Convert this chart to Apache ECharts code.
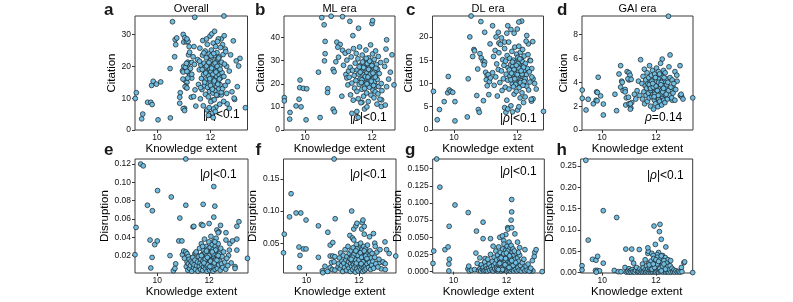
<!DOCTYPE html>
<html>
<head>
<meta charset="utf-8">
<script src="https://cdn.jsdelivr.net/npm/echarts@6/dist/echarts.min.js"></script>
<style>html,body{margin:0;padding:0;background:#fff}#c{width:793px;height:302px}</style>
</head>
<body>
<div id="c"></div>
<script>
// ---------------- DATA ----------------
const eraTitles = ['Overall', 'ML era', 'DL era', 'GAI era'];
const panelLetters = ['a', 'b', 'c', 'd', 'e', 'f', 'g', 'h'];
const xTicks = [10, 12];
const citationTicksOverall = [0, 10, 20, 30];
const citationTicksML = [0, 10, 20, 30, 40];
const citationTicksDL = [0, 5, 10, 15, 20];
const citationTicksGAI = [0, 2, 4, 6, 8];
const disruptionTicksOverall = [0.02, 0.04, 0.06, 0.08, 0.10, 0.12];
const disruptionTicksML = [0.05, 0.10, 0.15];
const disruptionTicksDL = [0, 0.025, 0.05, 0.075, 0.1, 0.125, 0.15];
const disruptionTicksGAI = [0, 0.05, 0.10, 0.15, 0.20, 0.25];
const notes = ['|ρ|<0.1', '|ρ|<0.1', '|ρ|<0.1', 'ρ=0.14', '|ρ|<0.1', '|ρ|<0.1', '|ρ|<0.1', '|ρ|<0.1'];

const overallCitation = [
[9.23,11.7],[9.19,9.9],[9.47,5.0],[9.43,3.5],[9.65,8.7],[9.77,8.7],[9.82,8.0],[9.8,14.0],[9.86,15.3],[9.98,14.4],[10.14,15.1],[10.04,3.2],[10.49,19.3],[10.58,34.0],[10.5,3.8],[10.68,28.4],[10.74,28.9],[10.7,26.8],[10.66,23.0],[10.87,11.7],[10.85,8.4],[10.98,30.0],[11.04,29.0],[11.0,27.6],[11.1,27.7],[11.16,27.8],[11.2,26.2],[10.95,18.6],[10.98,18.2],[11.0,20.0],[11.06,19.7],[11.05,15.5],[11.12,15.0],[11.1,13.3],[11.08,13.8],[11.03,6.8],[10.98,6.7],[11.03,6.1],[11.28,10.3],[11.15,21.3],[11.17,20.8],[11.2,17.8],[11.23,17.1],[11.18,23.6],[11.3,21.2],[11.35,23.0],[11.38,26.2],[11.41,35.4],[11.25,19.3],[11.3,16.3],[11.37,10.5],[11.42,12.6],[11.45,7.5],[11.12,28.6],[11.22,24.4],[11.4,20.6],[11.1,20.9],[11.12,18.4],[11.3,17.5],[11.15,16.3],[10.97,16.0],[11.05,13.6],[11.12,13.2],[10.85,10.3],
[12.4,28.6],[12.51,29.6],[12.45,26.8],[12.55,25.4],[12.96,21.7],[13.05,20.1],[13.0,13.6],[12.9,9.6],[12.88,10.0],[13.3,7.0],[12.4,11.0],[12.08,9.4],[12.6,20.0],[12.7,18.5],[12.65,15.2],[12.75,23.6],[12.8,12.0],[12.5,35.8],[12.7,6.8],[12.62,8.2],[13.1,22.5],[12.85,28.0],
[11.52,22.1],[11.55,14.3],[11.58,18.9],[11.6,25.7],[11.62,9.8],[11.64,20.4],[11.66,16.2],[11.68,12.7],[11.7,23.5],[11.71,28.1],[11.73,7.6],[11.74,17.4],[11.76,21.0],[11.77,13.9],[11.79,19.6],[11.8,24.8],[11.81,11.2],[11.83,15.7],[11.84,22.7],[11.86,18.1],[11.87,6.3],[11.88,26.9],[11.9,14.6],[11.91,20.9],[11.92,10.4],[11.93,17.0],[11.95,23.9],[11.96,12.1],[11.97,19.2],[11.98,29.5],[11.99,15.3],[12.0,21.8],[12.01,8.9],[12.02,18.4],[12.03,25.1],[12.04,13.2],[12.05,16.6],[12.06,22.9],[12.07,5.4],[12.08,19.9],[12.09,11.6],[12.1,27.3],[12.11,14.8],[12.12,20.6],[12.13,17.7],[12.14,9.5],[12.15,23.4],[12.16,15.9],[12.17,12.4],[12.18,19.0],[12.19,26.2],[12.2,7.2],[12.21,21.5],[12.22,16.9],[12.23,13.6],[12.24,24.3],[12.25,18.7],[12.26,10.9],[12.27,22.2],[12.28,15.0],[12.29,28.6],[12.3,19.8],[12.31,12.9],[12.32,17.3],[12.33,23.0],[12.34,8.1],[12.35,20.2],[12.36,14.2],[12.37,25.9],[12.38,16.4],[12.4,11.9],[12.41,21.3],[12.43,18.0],[12.45,13.0],[12.47,23.7],[12.49,9.0],[12.5,16.8],[12.52,20.7],[12.55,14.0],[12.57,24.6],[12.6,11.5],
[11.82,17.9],[11.85,20.1],[11.89,13.4],[11.94,21.2],[11.97,16.1],[12.0,14.0],[12.02,23.3],[12.04,19.4],[12.07,12.8],[12.09,17.5],[12.12,24.0],[12.14,15.4],[12.17,21.0],[12.2,18.2],[12.22,11.0],[12.25,20.0],[12.27,14.4],[12.3,22.6],[12.33,16.0],[12.36,19.1],[11.78,15.0],[11.75,24.2],[11.69,19.0],[11.63,13.3],[11.59,21.6],[12.11,6.6],[12.18,5.8],[11.95,7.0],[12.26,27.8],[11.85,28.6],[12.05,30.2],[12.15,31.0],[11.92,4.6],[12.1,3.9]
];

const mlCitation = [
[9.38,14.0],[9.38,12.6],[9.55,7.6],[9.54,4.7],[9.73,10.4],[9.88,10.0],[9.82,13.3],[9.85,21.6],[9.84,18.3],[9.95,18.0],[10.05,17.8],[10.03,4.4],[10.45,5.4],[10.4,25.0],[10.57,45.5],[10.78,49.2],[10.5,48.6],[10.6,38.3],[10.6,33.0],[10.58,29.9],[10.68,17.9],[10.67,16.2],[10.84,26.2],[10.87,25.2],[10.84,9.0],[10.88,7.9],[11.1,14.6],[10.95,38.0],[11.05,37.0],[10.98,35.8],[11.12,34.5],[11.2,33.2],[11.12,49.0],[11.34,47.0],[11.6,44.0],[12.0,46.0],[12.02,47.3],[11.43,40.8],[11.22,24.0],[11.25,22.5],[11.3,25.5],[10.92,29.5],[11.0,31.5],[11.15,28.0],
[12.44,39.0],[12.42,35.0],[12.43,30.0],[12.38,27.5],[12.44,18.7],[12.29,13.0],[12.28,10.2],[12.4,10.8],[12.66,19.5],[12.55,25.0],[12.6,32.5],[12.5,22.0],[11.78,9.1],[11.85,10.0],[11.59,5.4],[11.55,8.0],[11.7,12.0],[11.4,7.2],
[11.25,30.2],[11.28,19.5],[11.3,34.0],[11.32,22.8],[11.35,27.1],[11.36,15.2],[11.38,31.6],[11.4,20.3],[11.42,25.8],[11.44,12.9],[11.45,35.2],[11.47,23.6],[11.48,18.1],[11.5,28.9],[11.52,21.4],[11.53,33.1],[11.55,16.7],[11.56,26.0],[11.58,30.8],[11.59,13.5],[11.6,24.2],[11.62,19.7],[11.63,35.9],[11.65,22.1],[11.66,28.0],[11.67,11.8],[11.69,25.3],[11.7,17.6],[11.71,32.4],[11.72,21.0],[11.74,27.7],[11.75,14.6],[11.76,23.9],[11.78,30.1],[11.79,19.2],[11.8,26.6],[11.81,22.5],[11.82,34.6],[11.84,16.0],[11.85,24.7],[11.86,28.8],[11.87,20.6],[11.89,12.3],[11.9,31.2],[11.91,23.3],[11.92,18.5],[11.93,26.9],[11.95,21.7],[11.96,36.8],[11.97,15.1],[11.98,25.0],[11.99,29.6],[12.0,19.9],[12.01,23.0],[12.02,32.9],[12.03,17.2],[12.04,27.4],[12.05,22.2],[12.06,13.9],[12.07,30.5],[12.08,20.9],[12.09,25.6],[12.1,16.5],[12.11,34.2],[12.12,23.7],[12.13,19.0],[12.14,28.3],[12.15,11.2],[12.16,21.9],[12.17,26.3],[12.18,15.6],[12.19,31.8],[12.2,18.8],[12.22,24.4],[12.24,13.3],[12.26,29.2],[12.28,20.1],[12.3,17.0],
[11.65,25.0],[11.7,21.7],[11.75,27.0],[11.8,23.1],[11.85,20.0],[11.9,26.2],[11.95,24.1],[12.0,27.9],[12.05,19.3],[12.1,22.9],[11.72,29.4],[11.88,22.9],[11.98,21.1],[12.03,24.6],[11.62,27.3],[11.78,18.0],[11.93,29.8],[12.12,26.7],[11.83,31.0],[11.68,20.5]
];

const dlCitation = [
[9.35,8.3],[9.54,4.4],[9.47,2.2],[9.69,6.1],[9.82,11.5],[9.8,8.0],[9.85,8.6],[9.9,8.3],[9.96,8.1],[10.03,6.1],[10.03,1.95],[10.42,2.8],[10.45,11.0],[10.5,20.0],[10.59,15.8],[10.63,17.3],[10.65,17.0],[10.54,24.5],[10.85,23.3],[10.97,21.0],[11.22,22.4],[11.7,22.4],[12.14,23.4],[12.0,21.7],[10.72,7.4],[10.77,4.4],[10.8,3.8],[10.93,6.3],[10.75,13.1],[10.82,16.4],[10.86,15.5],[10.92,14.8],[10.97,14.6],[10.95,14.0],[11.0,12.4],[11.05,11.7],[11.08,11.9],[11.02,10.8],[11.12,10.4],[11.15,11.2],[11.1,7.6],[11.33,20.0],[11.4,21.0],[11.42,18.7],[11.14,18.5],[11.67,20.8],[11.8,21.6],[11.9,20.8],[12.05,23.2],[12.49,19.0],[12.46,13.2],[12.5,11.0],[12.55,10.0],[12.6,8.8],[12.5,6.7],[12.45,6.2],[12.83,4.0],[12.4,15.0],[12.35,18.5],[12.3,20.3],[11.5,19.8],[11.6,18.9],[11.05,9.5],
[11.22,12.3],[11.25,15.8],[11.27,9.6],[11.3,17.1],[11.32,11.4],[11.35,14.2],[11.37,7.3],[11.4,13.0],[11.42,16.6],[11.45,10.2],[11.47,18.4],[11.5,12.7],[11.52,8.5],[11.54,15.1],[11.56,11.0],[11.58,13.9],[11.6,17.5],[11.62,9.2],[11.63,14.8],[11.65,12.0],[11.67,6.4],[11.68,16.0],[11.7,10.7],[11.71,13.4],[11.73,18.9],[11.74,8.8],[11.76,15.4],[11.77,11.6],[11.79,14.0],[11.8,5.2],[11.81,12.8],[11.83,16.9],[11.84,9.9],[11.86,13.7],[11.87,11.1],[11.88,15.0],[11.9,7.7],[11.91,12.4],[11.92,17.8],[11.94,10.4],[11.95,14.5],[11.96,12.1],[11.97,8.3],[11.98,16.3],[11.99,11.3],[12.0,13.6],[12.01,4.3],[12.02,15.6],[12.03,10.0],[12.04,12.6],[12.05,18.0],[12.06,9.1],[12.07,14.1],[12.08,11.8],[12.09,6.9],[12.1,16.7],[12.11,13.1],[12.12,10.6],[12.13,15.2],[12.14,12.2],[12.15,8.0],[12.16,14.7],[12.17,17.3],[12.18,11.5],[12.19,13.8],[12.2,5.9],[12.21,9.7],[12.22,15.9],[12.23,12.9],[12.24,10.9],[12.25,7.1],[12.26,14.3],[12.28,19.1],[12.29,11.9],[12.3,9.4],[12.32,13.2],[12.34,16.2],[12.36,8.6],[12.38,12.5],[12.4,10.3],[12.42,14.9],[12.44,6.6],[12.46,11.4],
[11.75,12.9],[11.8,10.8],[11.85,14.6],[11.9,13.0],[11.95,9.8],[12.0,11.9],[12.05,13.3],[12.1,10.2],[12.15,12.0],[12.2,13.5],[12.25,11.0],[11.82,12.2],[11.92,11.0],[12.02,14.3],[12.12,12.7],[12.22,10.4],[11.88,9.3],[12.08,15.3],[11.97,13.9],[12.18,9.6],[11.64,3.8],[11.6,4.8],[11.7,4.5],[11.85,3.9],[12.05,5.0]
];

const gaiCitation = [
[9.27,3.35],[9.27,2.66],[9.41,1.68],[9.49,2.58],[9.68,2.2],[9.8,3.2],[9.83,3.15],[9.78,2.5],[9.82,2.45],[9.86,4.43],[9.95,2.86],[10.05,2.18],[10.05,1.26],[10.48,3.0],[10.54,1.62],[10.63,4.7],[10.69,5.4],[10.73,4.1],[10.75,4.0],[10.69,3.6],[10.78,3.3],[10.86,3.4],[10.86,3.2],[10.9,2.7],[10.98,2.75],[10.88,2.1],[11.0,2.2],[11.07,1.85],[11.05,1.75],[10.93,4.9],[11.0,4.8],[11.04,4.6],[11.0,4.2],[10.96,4.3],[11.08,4.25],[11.1,2.3],[11.05,2.2],[11.43,5.9],[11.35,4.1],[11.3,3.3],[11.2,3.0],[11.25,2.6],[11.4,2.9],
[12.52,6.3],[12.23,5.95],[12.46,9.55],[12.89,5.4],[12.78,4.1],[12.9,2.9],[12.95,2.8],[12.93,3.0],[13.0,2.6],[13.36,2.7],[12.7,4.9],[12.65,3.5],[12.6,2.5],
[11.48,3.9],[11.5,2.6],[11.52,4.5],[11.55,3.2],[11.57,5.1],[11.58,2.2],[11.6,3.7],[11.62,4.2],[11.63,2.9],[11.65,3.5],[11.67,4.8],[11.68,2.4],[11.7,3.9],[11.72,3.1],[11.73,4.4],[11.75,2.7],[11.76,5.4],[11.78,3.6],[11.79,4.0],[11.8,2.0],[11.82,3.3],[11.83,4.6],[11.85,2.8],[11.86,3.8],[11.87,5.0],[11.89,3.0],[11.9,4.2],[11.91,1.75],[11.92,3.5],[11.94,2.5],[11.95,4.7],[11.96,3.2],[11.97,3.9],[11.98,2.2],[12.0,4.1],[12.01,3.4],[12.02,5.2],[12.03,2.7],[12.04,3.7],[12.05,4.4],[12.06,3.0],[12.07,1.95],[12.08,3.6],[12.09,4.9],[12.1,2.6],[12.11,3.8],[12.12,4.3],[12.13,3.1],[12.14,2.4],[12.15,4.0],[12.16,3.5],[12.17,5.6],[12.18,2.9],[12.19,4.6],[12.2,3.3],[12.21,2.1],[12.22,3.9],[12.23,4.5],[12.24,2.8],[12.25,3.6],[12.26,4.2],[12.27,3.0],[12.28,5.0],[12.29,2.5],[12.3,3.7],[12.31,4.1],[12.32,3.2],[12.33,2.3],[12.34,4.8],[12.35,3.5],[12.36,2.9],[12.38,4.3],[12.4,3.8],[12.42,2.6],[12.44,4.0],[12.46,3.3],[12.48,5.3],[12.5,2.9],[12.52,4.4],[12.55,3.6],[12.58,2.7],[12.6,4.2],[12.63,3.1],[12.66,3.9],[12.7,2.5],[12.73,3.4],[12.77,4.6],
[11.75,3.8],[11.8,3.5],[11.85,4.1],[11.9,3.6],[11.95,3.0],[12.0,3.7],[12.05,3.3],[12.1,4.0],[12.15,3.0],[12.2,4.0],[12.25,3.2],[12.3,4.4],[11.88,3.9],[11.98,4.4],[12.08,2.9],[12.18,3.8],[12.28,3.5],[12.38,3.0],[11.93,2.8],[12.13,4.7]
];

const overallDisruption = [
[9.18,0.0508],[9.14,0.021],[9.36,0.120],[9.46,0.118],[9.62,0.075],[9.81,0.069],[9.72,0.037],[9.9,0.032],[10.0,0.036],[9.8,0.018],[9.75,0.0065],[10.01,0.091],[10.54,0.084],[10.49,0.020],[10.71,0.011],[10.62,0.0035],[10.68,0.006],[10.87,0.061],[10.83,0.036],[10.95,0.036],[11.1,0.075],[11.1,0.1255],[10.97,0.021],[11.02,0.025],[11.1,0.024],[11.05,0.017],[11.15,0.022],[11.2,0.019],[11.38,0.0514],[12.18,0.0954],[11.77,0.076],[12.22,0.074],[12.18,0.062],[11.7,0.054],[11.76,0.053],[12.0,0.055],[11.41,0.052],[12.44,0.053],[12.3,0.048],[12.38,0.046],[12.35,0.045],[13.07,0.052],[13.15,0.057],[13.07,0.038],[13.07,0.026],[13.48,0.017],[13.0,0.008],[13.0,0.006],[12.8,0.033],[12.9,0.036],[12.65,0.045],[12.65,0.037],[11.45,0.022],[11.5,0.022],[12.75,0.02],[12.85,0.012],
[11.12,0.008],[11.15,0.013],[11.18,0.004],[11.2,0.011],[11.23,0.016],[11.25,0.006],[11.28,0.009],[11.3,0.014],[11.33,0.003],[11.35,0.012],[11.37,0.018],[11.4,0.007],[11.42,0.010],[11.45,0.015],[11.47,0.005],[11.5,0.024],[11.52,0.009],[11.55,0.013],[11.57,0.003],[11.6,0.019],[11.62,0.008],[11.63,0.028],[11.65,0.012],[11.67,0.005],[11.68,0.016],[11.7,0.033],[11.72,0.010],[11.73,0.021],[11.75,0.004],[11.76,0.014],[11.78,0.026],[11.79,0.008],[11.8,0.018],[11.82,0.038],[11.83,0.011],[11.85,0.023],[11.86,0.006],[11.87,0.015],[11.89,0.030],[11.9,0.009],[11.91,0.020],[11.92,0.003],[11.94,0.013],[11.95,0.027],[11.96,0.017],[11.97,0.007],[11.99,0.035],[12.0,0.012],[12.01,0.022],[12.02,0.004],[12.03,0.016],[12.04,0.029],[12.05,0.009],[12.06,0.019],[12.07,0.041],[12.08,0.013],[12.09,0.006],[12.1,0.025],[12.11,0.015],[12.12,0.032],[12.13,0.010],[12.14,0.020],[12.15,0.003],[12.16,0.027],[12.17,0.014],[12.18,0.008],[12.19,0.036],[12.2,0.018],[12.21,0.011],[12.22,0.024],[12.23,0.005],[12.24,0.030],[12.25,0.016],[12.26,0.009],[12.27,0.039],[12.28,0.021],[12.29,0.012],[12.3,0.027],[12.32,0.006],[12.33,0.017],[12.35,0.033],[12.37,0.010],[12.39,0.022],[12.41,0.014],[12.43,0.004],[12.45,0.028],[12.48,0.011],[12.5,0.019],[12.53,0.007],[12.56,0.024],[12.6,0.013],[12.64,0.005],[12.68,0.017],[12.72,0.009],[12.78,0.026],
[11.85,0.016],[11.9,0.025],[11.95,0.010],[12.0,0.020],[12.05,0.014],[12.1,0.008],[12.15,0.022],[12.2,0.012],[12.25,0.026],[11.8,0.012],[11.7,0.020],[12.3,0.015],[12.35,0.020],[11.93,0.018],[12.12,0.024],[12.03,0.008],[11.75,0.030],[12.22,0.035]
];

const mlDisruption = [
[9.15,0.064],[9.12,0.035],[9.35,0.091],[9.41,0.127],[9.6,0.097],[9.78,0.097],[9.98,0.086],[9.71,0.044],[9.75,0.031],[9.88,0.041],[9.98,0.041],[9.73,0.012],[10.45,0.077],[10.45,0.028],[10.7,0.014],[10.6,0.007],[10.81,0.067],[10.9,0.047],[11.0,0.051],[11.05,0.181],[11.09,0.088],[10.9,0.030],[11.0,0.030],[11.08,0.029],[10.95,0.020],[11.05,0.021],[10.9,0.012],[10.98,0.009],[11.08,0.008],[11.2,0.013],[11.72,0.100],[11.8,0.072],[11.88,0.077],[11.92,0.081],[12.12,0.082],[12.15,0.086],[12.1,0.072],[12.2,0.076],[11.65,0.062],[11.75,0.058],[11.8,0.055],[12.2,0.064],[12.4,0.060],[12.55,0.065],[12.6,0.050],[12.62,0.045],[12.99,0.052],[13.15,0.034],[13.05,0.040],[12.78,0.020],[12.95,0.019],[12.85,0.010],[13.0,0.009],[13.4,0.030],[10.62,0.004],[10.8,0.006],[12.91,0.021],[13.0,0.018],
[11.22,0.018],[11.25,0.027],[11.28,0.010],[11.3,0.035],[11.33,0.015],[11.35,0.022],[11.38,0.006],[11.4,0.031],[11.42,0.019],[11.45,0.012],[11.47,0.040],[11.5,0.024],[11.52,0.008],[11.54,0.029],[11.56,0.016],[11.58,0.045],[11.6,0.021],[11.62,0.011],[11.63,0.034],[11.65,0.026],[11.67,0.006],[11.68,0.018],[11.7,0.038],[11.72,0.014],[11.73,0.030],[11.75,0.022],[11.76,0.009],[11.78,0.043],[11.79,0.017],[11.8,0.027],[11.82,0.012],[11.83,0.035],[11.85,0.020],[11.86,0.005],[11.87,0.031],[11.89,0.015],[11.9,0.048],[11.91,0.024],[11.92,0.010],[11.94,0.037],[11.95,0.019],[11.96,0.028],[11.97,0.007],[11.99,0.033],[12.0,0.016],[12.01,0.042],[12.02,0.023],[12.03,0.012],[12.04,0.030],[12.05,0.020],[12.06,0.050],[12.07,0.009],[12.08,0.026],[12.09,0.036],[12.1,0.014],[12.11,0.022],[12.12,0.040],[12.13,0.017],[12.14,0.006],[12.15,0.032],[12.16,0.025],[12.17,0.011],[12.18,0.045],[12.19,0.019],[12.2,0.029],[12.21,0.008],[12.22,0.036],[12.23,0.021],[12.24,0.014],[12.25,0.041],[12.26,0.026],[12.27,0.010],[12.28,0.033],[12.3,0.018],[12.32,0.047],[12.34,0.024],[12.36,0.012],[12.38,0.030],[12.4,0.020],[12.42,0.038],[12.44,0.009],[12.46,0.027],[12.48,0.016],[12.5,0.034],[12.53,0.022],[12.56,0.011],[12.6,0.028],[12.64,0.018],[12.68,0.036],[12.72,0.013],[12.76,0.025],[12.8,0.040],
[11.85,0.025],[11.9,0.019],[11.95,0.031],[12.0,0.024],[12.05,0.035],[12.1,0.028],[12.15,0.021],[12.2,0.038],[11.8,0.032],[11.75,0.028],[12.25,0.030],[11.7,0.025],[12.3,0.026],[11.93,0.041],[12.08,0.018],[11.88,0.038]
];

const dlDisruption = [
[9.37,0.164],[9.49,0.123],[9.26,0.030],[9.23,0.012],[9.68,0.032],[9.8,0.036],[9.84,0.066],[9.83,0.011],[9.85,0.018],[9.83,0.001],[10.06,0.097],[10.56,0.086],[10.55,0.004],[10.58,0.008],[10.6,0.001],[10.68,0.002],[10.8,0.003],[10.87,0.059],[10.85,0.027],[11.12,0.072],[11.12,0.048],[11.4,0.048],[11.0,0.020],[11.2,0.019],[11.98,0.054],[12.05,0.064],[12.06,0.062],[12.2,0.064],[12.2,0.105],[12.2,0.087],[12.18,0.075],[12.32,0.055],[12.7,0.032],[13.07,0.028],[13.12,0.032],[13.05,0.022],[13.35,0.0],[12.95,0.002],[13.0,0.001],[12.85,0.004],[12.9,0.0015],[11.75,0.050],[11.85,0.052],[11.9,0.045],[12.42,0.043],[12.5,0.035],[11.5,0.037],[10.9,0.012],[11.05,0.008],
[10.95,0.002],[11.0,0.004],[11.03,0.001],[11.06,0.010],[11.1,0.003],[11.13,0.006],[11.15,0.001],[11.18,0.014],[11.2,0.002],[11.23,0.008],[11.25,0.004],[11.28,0.001],[11.3,0.018],[11.33,0.005],[11.35,0.011],[11.37,0.002],[11.4,0.025],[11.42,0.007],[11.45,0.003],[11.47,0.015],[11.5,0.001],[11.52,0.009],[11.54,0.021],[11.56,0.004],[11.58,0.012],[11.6,0.030],[11.62,0.002],[11.63,0.017],[11.65,0.007],[11.67,0.024],[11.68,0.001],[11.7,0.011],[11.71,0.036],[11.73,0.005],[11.74,0.019],[11.76,0.003],[11.77,0.028],[11.79,0.009],[11.8,0.014],[11.81,0.001],[11.83,0.022],[11.84,0.006],[11.86,0.033],[11.87,0.012],[11.88,0.002],[11.9,0.018],[11.91,0.040],[11.92,0.008],[11.94,0.026],[11.95,0.003],[11.96,0.015],[11.97,0.031],[11.99,0.005],[12.0,0.020],[12.01,0.001],[12.02,0.011],[12.03,0.037],[12.04,0.024],[12.05,0.007],[12.06,0.016],[12.07,0.002],[12.08,0.029],[12.09,0.010],[12.1,0.043],[12.11,0.019],[12.12,0.004],[12.13,0.034],[12.14,0.013],[12.15,0.001],[12.16,0.025],[12.17,0.008],[12.18,0.038],[12.19,0.017],[12.2,0.003],[12.21,0.029],[12.22,0.011],[12.23,0.021],[12.24,0.005],[12.25,0.033],[12.26,0.014],[12.27,0.001],[12.28,0.024],[12.3,0.008],[12.32,0.018],[12.34,0.003],[12.36,0.027],[12.38,0.011],[12.4,0.001],[12.42,0.020],[12.44,0.006],[12.46,0.015],[12.48,0.002],[12.5,0.024],[12.53,0.009],[12.56,0.001],[12.6,0.013],[12.63,0.004],[12.66,0.018],[12.7,0.001],[12.74,0.008],[12.78,0.002],[12.82,0.011],[12.86,0.001],[12.92,0.005],[12.98,0.016],
[11.85,0.003],[11.95,0.010],[12.05,0.030],[12.15,0.020],[12.25,0.009],[11.75,0.012],[12.35,0.013],[11.65,0.004],[12.45,0.028],[11.9,0.026],[12.1,0.006],[12.0,0.027],[12.2,0.016],[11.8,0.020],[12.3,0.030],[11.7,0.003],[12.12,0.023],[11.97,0.019]
];

const gaiDisruption = [
[9.39,0.263],[9.25,0.016],[9.25,0.006],[9.48,0.076],[9.64,0.031],[9.77,0.029],[9.83,0.038],[9.75,0.005],[9.82,0.005],[9.9,0.004],[9.78,0.001],[10.04,0.022],[10.04,0.145],[10.54,0.129],[10.45,0.005],[10.6,0.002],[10.7,0.002],[10.88,0.055],[11.1,0.055],[11.1,0.032],[11.17,0.022],[10.85,0.012],[11.0,0.009],[11.38,0.054],[11.7,0.045],[11.72,0.050],[11.7,0.058],[11.93,0.109],[12.15,0.113],[12.13,0.096],[12.2,0.078],[11.98,0.066],[12.37,0.060],[13.04,0.023],[13.07,0.025],[12.95,0.012],[13.37,0.0],[12.1,0.047],[12.05,0.042],[11.85,0.045],[11.9,0.040],[12.25,0.040],[12.35,0.035],[12.45,0.030],[12.55,0.028],[12.45,0.018],[11.6,0.03],[11.5,0.02],[11.2,0.008],[11.3,0.002],
[10.9,0.001],[10.95,0.003],[11.0,0.001],[11.05,0.004],[11.08,0.001],[11.12,0.007],[11.15,0.002],[11.2,0.001],[11.25,0.005],[11.28,0.012],[11.32,0.001],[11.35,0.003],[11.4,0.008],[11.42,0.001],[11.46,0.004],[11.5,0.001],[11.53,0.011],[11.56,0.002],[11.6,0.006],[11.62,0.001],[11.65,0.016],[11.67,0.003],[11.7,0.008],[11.72,0.001],[11.74,0.022],[11.76,0.005],[11.78,0.012],[11.8,0.001],[11.82,0.027],[11.84,0.004],[11.86,0.015],[11.88,0.001],[11.9,0.009],[11.92,0.033],[11.94,0.002],[11.96,0.019],[11.98,0.006],[12.0,0.001],[12.01,0.025],[12.03,0.011],[12.05,0.003],[12.06,0.036],[12.08,0.014],[12.1,0.001],[12.11,0.021],[12.13,0.007],[12.15,0.030],[12.17,0.002],[12.18,0.017],[12.2,0.039],[12.22,0.005],[12.24,0.024],[12.26,0.001],[12.28,0.013],[12.3,0.028],[12.32,0.004],[12.34,0.018],[12.36,0.001],[12.38,0.009],[12.4,0.022],[12.42,0.002],[12.44,0.014],[12.47,0.001],[12.5,0.006],[12.53,0.016],[12.56,0.001],[12.6,0.010],[12.63,0.002],[12.67,0.006],[12.7,0.001],[12.75,0.004],[12.8,0.001],[12.85,0.003],[12.9,0.001],[12.97,0.002],
[11.85,0.008],[11.95,0.012],[12.05,0.020],[12.15,0.010],[12.25,0.015],[12.35,0.008],[11.75,0.018],[12.0,0.030],[12.1,0.026],[12.2,0.004],[11.9,0.020],[12.3,0.020]
];

// ---------------- LAYOUT ----------------
const FONT = "'Liberation Sans', Arial, Helvetica, sans-serif";
const fmtInt = v => String(Math.round(v));
const fmt2 = v => v.toFixed(2);
const fmt3 = v => v.toFixed(3);

const panels = [
  {data: overallCitation, left:135, top:16, width:112.5, xr:[9.18,13.38], yr:[0,35.8], yt:citationTicksOverall, f:fmtInt, yname:'Citation', ygap:14, noteX:203, noteY:114.5, letterX:104},
  {data: mlCitation, left:284, top:16, width:111, xr:[9.37,12.69], yr:[0,49.3], yt:citationTicksML, f:fmtInt, yname:'Citation', ygap:14, noteX:350, noteY:117.5, letterX:255},
  {data: dlCitation, left:432.5, top:16, width:111, xr:[9.32,12.83], yr:[0,24.5], yt:citationTicksDL, f:fmtInt, yname:'Citation', ygap:14.5, noteX:500, noteY:118.5, letterX:406},
  {data: gaiCitation, left:582, top:16, width:111, xr:[9.26,13.37], yr:[0,9.57], yt:citationTicksGAI, f:fmtInt, yname:'Citation', ygap:10, noteX:645, noteY:118, letterX:557},
  {data: overallDisruption, left:135, top:159, width:113, xr:[9.14,13.5], yr:[0.001,0.1255], yt:disruptionTicksOverall, f:fmt2, yname:'Disruption', ygap:22.5, noteX:200, noteY:175, letterX:104},
  {data: mlDisruption, left:283.5, top:159, width:112.5, xr:[9.12,13.41], yr:[0.0036,0.181], yt:disruptionTicksML, f:fmt2, yname:'Disruption', ygap:21, noteX:350, noteY:175, letterX:255.5},
  {data: dlDisruption, left:432.7, top:159, width:111.6, xr:[9.22,13.43], yr:[-0.002,0.164], yt:disruptionTicksDL, f:fmt3, yname:'Disruption', ygap:27, noteX:500, noteY:171.5, letterX:405},
  {data: gaiDisruption, left:580.7, top:159, width:112, xr:[9.2,13.37], yr:[-0.001,0.266], yt:disruptionTicksGAI, f:fmt2, yname:'Disruption', ygap:21, noteX:647, noteY:176, letterX:556.5}
];
const H = 114;

const grids = [], xAxes = [], yAxes = [], series = [], graphics = [];
panels.forEach((p, i) => {
  grids.push({left:p.left, top:p.top, width:p.width, height:H, show:true, borderColor:'#3a3a3a', borderWidth:1, backgroundColor:'transparent', containLabel:false});
  xAxes.push({
    type:'value', gridIndex:i, min:p.xr[0], max:p.xr[1],
    name:'Knowledge extent', nameLocation:'middle', nameGap:12.5,
    nameTextStyle:{fontFamily:FONT, fontSize:11.5, color:'#000'},
    axisLine:{show:false}, splitLine:{show:false},
    axisTick:{show:true, length:3, inside:false, customValues:xTicks, lineStyle:{color:'#333', width:1}},
    axisLabel:{show:true, margin:3, fontFamily:FONT, fontSize:8.5, color:'#111', customValues:xTicks, formatter:fmtInt}
  });
  yAxes.push({
    type:'value', gridIndex:i, min:p.yr[0], max:p.yr[1],
    name:p.yname, nameLocation:'middle', nameGap:p.ygap, nameRotate:90,
    nameTextStyle:{fontFamily:FONT, fontSize:11.5, color:'#000'},
    axisLine:{show:false}, splitLine:{show:false},
    axisTick:{show:true, length:3, inside:false, customValues:p.yt, lineStyle:{color:'#333', width:1}},
    axisLabel:{show:true, margin:4, fontFamily:FONT, fontSize:8.5, color:'#111', customValues:p.yt, formatter:p.f}
  });
  series.push({
    type:'scatter', xAxisIndex:i, yAxisIndex:i, data:p.data,
    symbol:'circle', symbolSize:4.8, clip:true,
    itemStyle:{color:'#6fbde0', borderColor:'#1c262b', borderWidth:0.75, opacity:1},
    emphasis:{disabled:true}, animation:false
  });
  graphics.push({type:'text', x:p.letterX, y:(i<4?10:150.3), silent:true,
    style:{text:panelLetters[i], fontFamily:FONT, fontSize:17, fontWeight:'bold', fill:'#1a1a1a', align:'left', verticalAlign:'middle'}});
  if (i < 4) {
    graphics.push({type:'text', x:p.left + p.width/2, y:9.3, silent:true,
      style:{text:eraTitles[i], fontFamily:FONT, fontSize:11, fill:'#000', align:'center', verticalAlign:'middle'}});
  }
  const txt = notes[i].replace('ρ', '{r|ρ}');
  graphics.push({type:'text', x:p.noteX, y:p.noteY, silent:true,
    style:{text:txt, fontFamily:FONT, fontSize:12, fill:'#000', align:'left', verticalAlign:'middle',
      rich:{r:{fontStyle:'italic', fontFamily:FONT, fontSize:12, fill:'#000'}}}});
});

const chart = echarts.init(document.getElementById('c'), null, {renderer:'canvas', width:793, height:302});
chart.setOption({
  animation:false,
  backgroundColor:'#ffffff',
  grid:grids, xAxis:xAxes, yAxis:yAxes, series:series, graphic:graphics
});
</script>
</body>
</html>
